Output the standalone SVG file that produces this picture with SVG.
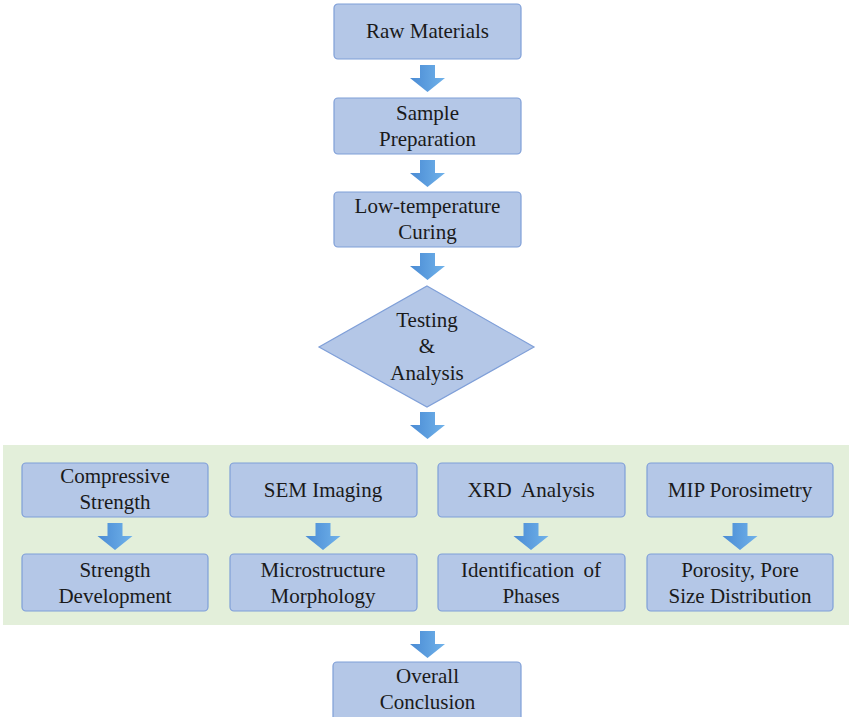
<svg xmlns="http://www.w3.org/2000/svg" width="850" height="717" viewBox="0 0 850 717">
<style>
.box{fill:#b4c7e7;stroke:#7f9fd8;stroke-width:1.2}
.panel{fill:#e3efda;stroke:none}
.t{font-family:'Liberation Serif','DejaVu Serif',serif;font-size:21px;fill:#1a1a1a;text-anchor:middle}
</style>
<defs>
<linearGradient id="ag" x1="0" y1="0" x2="1" y2="0">
<stop offset="0" stop-color="#4a8bd4"/>
<stop offset="1" stop-color="#70b2ea"/>
</linearGradient>
<path id="arr" d="M-7.5,0 H7.5 V13 H17.5 L0,27 L-17.5,13 H-7.5 Z" fill="url(#ag)"/>
</defs>
<rect width="850" height="717" fill="#ffffff"/>
<rect class="panel" x="3" y="445" width="846" height="180"/>
<g id="connectors">
<use href="#arr" x="427.5" y="65"/>
<use href="#arr" x="427.5" y="160"/>
<use href="#arr" x="427.5" y="253"/>
<use href="#arr" x="427.5" y="412"/>
<use href="#arr" x="115" y="523"/>
<use href="#arr" x="323" y="523"/>
<use href="#arr" x="531" y="523"/>
<use href="#arr" x="740" y="523"/>
<use href="#arr" x="427.5" y="631"/>
</g>
<g class="t" font-family="Liberation Serif, DejaVu Serif, serif">
<g id="raw">
<rect class="box" x="334" y="4" width="187" height="55" rx="4"/>
<text x="427.5" y="38">Raw Materials</text>
</g>
<g id="sample">
<rect class="box" x="334" y="98" width="187" height="56" rx="4"/>
<text x="427.5" y="120">Sample</text>
<text x="427.5" y="146">Preparation</text>
</g>
<g id="curing">
<rect class="box" x="334" y="192" width="187" height="55" rx="4"/>
<text x="427.5" y="213">Low-temperature</text>
<text x="427.5" y="239">Curing</text>
</g>
<g id="testing">
<polygon class="box" points="427,286 534,347 427,407 319,347"/>
<text x="427" y="327">Testing</text>
<text x="427" y="353">&amp;</text>
<text x="427" y="380">Analysis</text>
</g>
<g id="compressive">
<rect class="box" x="22" y="463" width="186" height="54" rx="4"/>
<text x="115" y="483">Compressive</text>
<text x="115" y="509">Strength</text>
</g>
<g id="sem">
<rect class="box" x="230" y="463" width="187" height="54" rx="4"/>
<text x="323" y="497">SEM Imaging</text>
</g>
<g id="xrd">
<rect class="box" x="438" y="463" width="187" height="54" rx="4"/>
<text x="531" y="497" xml:space="preserve">XRD  Analysis</text>
</g>
<g id="mip">
<rect class="box" x="647" y="463" width="186" height="54" rx="4"/>
<text x="740" y="497">MIP Porosimetry</text>
</g>
<g id="strength">
<rect class="box" x="22" y="554" width="186" height="57" rx="4"/>
<text x="115" y="577">Strength</text>
<text x="115" y="603">Development</text>
</g>
<g id="micro">
<rect class="box" x="230" y="554" width="187" height="57" rx="4"/>
<text x="323" y="577">Microstructure</text>
<text x="323" y="603">Morphology</text>
</g>
<g id="phases">
<rect class="box" x="438" y="554" width="187" height="57" rx="4"/>
<text x="531" y="577" style="word-spacing:4px">Identification of</text>
<text x="531" y="603">Phases</text>
</g>
<g id="porosity">
<rect class="box" x="647" y="554" width="186" height="57" rx="4"/>
<text x="740" y="577">Porosity, Pore</text>
<text x="740" y="603">Size Distribution</text>
</g>
<g id="conclusion">
<rect class="box" x="333" y="662" width="188" height="60" rx="4"/>
<text x="427.5" y="683">Overall</text>
<text x="427.5" y="709">Conclusion</text>
</g>
</g>
</svg>
